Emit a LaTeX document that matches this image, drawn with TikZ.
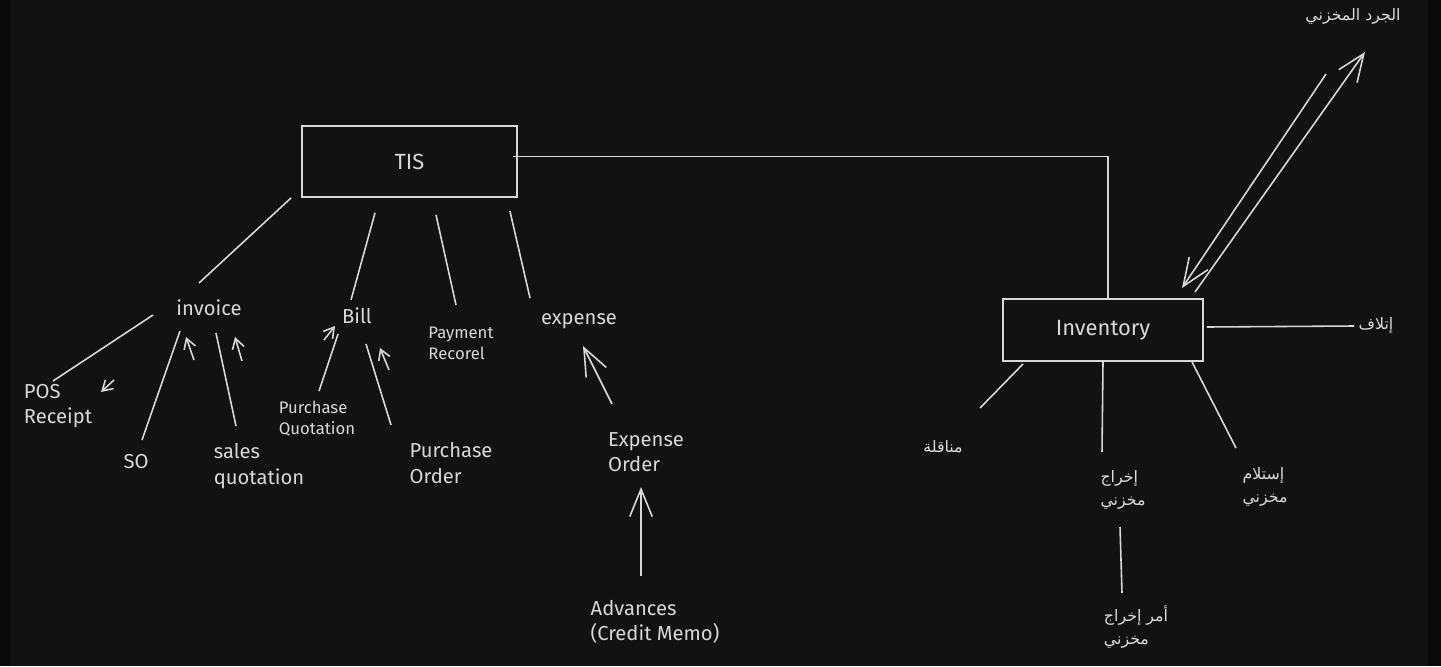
\documentclass[tikz,border=0pt]{standalone}
\usepackage{fontspec}
\setmainfont{Fira Sans}
\newfontfamily\arabicfont[Script=Arabic]{DejaVu Sans}
\TeXXeTstate=1
\usetikzlibrary{arrows.meta, positioning, calc}
\definecolor{board}{HTML}{121212}
\definecolor{edge}{HTML}{0A0A0B}
\definecolor{chalk}{HTML}{D8D8D8}
\tikzset{%
	box/.style={draw=chalk, rectangle, line width=1pt, text=chalk,%
		font=\fontsize{12.5}{15}\selectfont},
	lbl/.style={text=chalk, inner sep=0mm, align=left, font=\fontsize{11.5}{14.5}\selectfont},
	small/.style={lbl, font=\fontsize{9.5}{12}\selectfont},
	ar/.style={text=chalk!92, inner sep=0mm, align=left, font=\arabicfont\fontsize{9}{13}\selectfont},
	connector/.style={draw=chalk, line width=0.9pt},
	sel/.style={connector, -{Straight Barb[length=2mm, width=2.4mm]}},
	bigsel/.style={connector, -{Straight Barb[length=5.5mm, width=4.5mm]}}
}

\begin{document}
\begin{tikzpicture}[x=0.2mm, y=-0.2mm]
	% board
	\fill[board] (0,0) rectangle (1441,666);
	\fill[edge] (0,0) rectangle (10,666);
	\fill[edge] (1428,0) rectangle (1441,666);

	% main boxes
	\node[box, minimum width=43mm, minimum height=14.2mm] (tis) at (409.5,161.5) {TIS};
	\node[box, minimum width=40mm, minimum height=12.4mm] (inv) at (1103,330) {Inventory};

	% TIS side
	\node[lbl] (invoice) at (209,308) {invoice};
	\node[lbl] (bill) at (357,316) {Bill};
	\node[small] (payrec) at (461,343) {Payment\\Recorel};
	\node[lbl] (expense) at (579,321) {expense};
	\node[lbl] (pos) at (58,406) {POS\\Receipt};
	\node[lbl] (so) at (136,462) {SO};
	\node[lbl] (salesq) at (259,466) {sales\\quotation};
	\node[small] (purq) at (317,419) {Purchase\\Quotation};
	\node[lbl] (purord) at (451,463) {Purchase\\Order};
	\node[lbl] (expord) at (646,452) {Expense\\Order};
	\node[lbl] (adv) at (655,622) {Advances\\(Credit Memo)};

	% Inventory side
	\node[ar] (jard) at (1353,16) {\beginR الجرد المخزني\endR};
	\node[ar] (itlaf) at (1376,325) {\beginR إتلاف\endR};
	\node[ar] (munaqala) at (943,447) {\beginR مناقلة\endR};
	\node[ar] (ikhraj) at (1123,490) {\beginR إخراج\endR\\\beginR مخزني\endR};
	\node[ar] (amr) at (1136,627) {\beginR أمر إخراج\endR\\\beginR مخزني\endR};
	\node[ar] (istilam) at (1265,487) {\beginR إستلام\endR\\\beginR مخزني\endR};

	% TIS links
	\draw[connector] ([shift={(-10,0)}]tis.south west) -- ([shift={(-10,-25)}]invoice.center);
	\draw[connector] ([shift={(-34.5,15)}]tis.south) -- ([shift={(-6,-16)}]bill.center);
	\draw[connector] ([shift={(26.5,17)}]tis.south) -- ([shift={(-5,-38)}]payrec.center);
	\draw[connector] ([shift={(-8,13)}]tis.south east) -- ([shift={(-49,-23)}]expense.center);
	\draw[connector] ([shift={(-5,-5)}]tis.east) -| ([shift={(5,0)}]inv.north);

	% invoice
	\draw[connector] ([shift={(-56,7)}]invoice.center) -- ([shift={(-5,-25)}]pos.center);
	\draw[sel] ([shift={(-95,72)}]invoice.center) -- ([shift={(43,-14)}]pos.center);
	\draw[connector] ([shift={(-29,23)}]invoice.center) -- ([shift={(6,-22)}]so.center);
	\draw[sel] ([shift={(58,-102)}]so.center) -- ([shift={(-23,29)}]invoice.center);
	\draw[connector] ([shift={(7,25)}]invoice.center) -- ([shift={(-23,-40)}]salesq.center);
	\draw[sel] ([shift={(-17,-105)}]salesq.center) -- ([shift={(26,29)}]invoice.center);

	% bill
	\draw[connector] ([shift={(-19,18)}]bill.center) -- ([shift={(2,-28)}]purq.center);
	\draw[sel] ([shift={(7,-79)}]purq.center) -- ([shift={(-22,10)}]bill.center);
	\draw[connector] ([shift={(9,28)}]bill.center) -- ([shift={(-60,-38)}]purord.center);
	\draw[sel] ([shift={(-62,-93)}]purord.center) -- ([shift={(23,32)}]bill.center);

	% expense
	\draw[bigsel] ([shift={(-34,-48)}]expord.center) -- ([shift={(4,25)}]expense.center);
	\draw[bigsel] ([shift={(-14,-46)}]adv.center) -- ([shift={(-5,35)}]expord.center);

	% Inventory links
	\draw[bigsel] ([shift={(-27,58)}]jard.center) -- ([shift={(79,-42)}]inv.center);
	\draw[bigsel] ([shift={(92,-38)}]inv.center) -- ([shift={(12,36)}]jard.center);
	\draw[connector] ([shift={(3,-3)}]inv.east) -- ([shift={(-22,1)}]itlaf.center);
	\draw[connector] ([shift={(-80,34)}]inv.center) -- ([shift={(37,-39)}]munaqala.center);
	\draw[connector] (inv.south) -- ([shift={(-21,-38)}]ikhraj.center);
	\draw[connector] ([shift={(-3,37)}]ikhraj.center) -- ([shift={(-14,-34)}]amr.center);
	\draw[connector] ([shift={(89,32)}]inv.center) -- ([shift={(-29,-39)}]istilam.center);
\end{tikzpicture}
\end{document}
